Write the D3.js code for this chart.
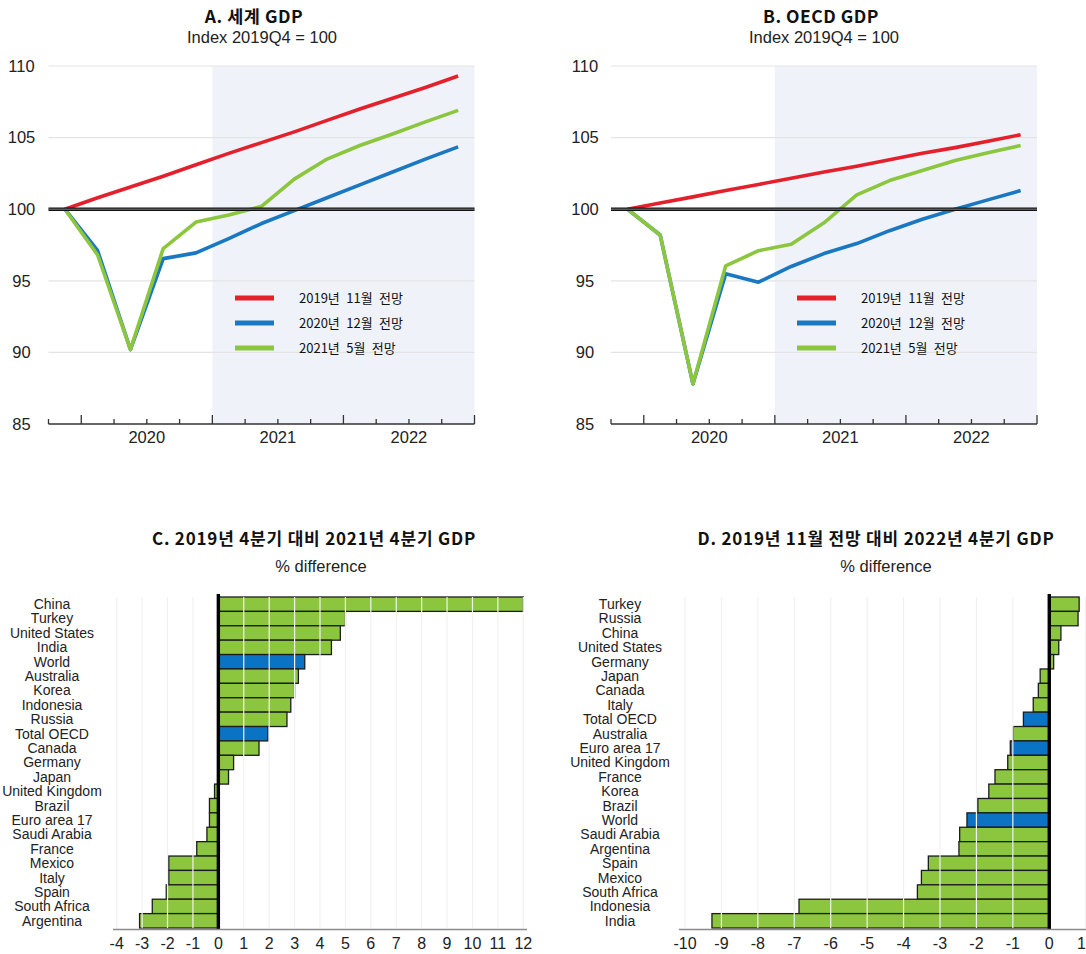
<!DOCTYPE html>
<html>
<head>
<meta charset="utf-8">
<script src="https://cdn.jsdelivr.net/npm/d3@7"></script>
<style>
  html, body { margin: 0; padding: 0; background: #fff; }
  svg { display: block; }
  .lat { font-family: "Liberation Sans", Arial, sans-serif; fill: #222; }
  .kr { font-family: "Noto Sans CJK KR", "Noto Sans", sans-serif; fill: #111; }
</style>
</head>
<body>
<svg id="chart" width="1086" height="954"></svg>
<script>
// Quarterly periods shown in panels A and B
const quarters = ["2019Q4","2020Q1","2020Q2","2020Q3","2020Q4","2021Q1","2021Q2",
                  "2021Q3","2021Q4","2022Q1","2022Q2","2022Q3","2022Q4"];

// World GDP index, 2019Q4 = 100
const worldNov2019 = [100, 100.8, 101.55, 102.3, 103.1, 103.9, 104.65, 105.4, 106.2, 107.0, 107.75, 108.5, 109.3];
const worldDec2020 = [100, 97.1, 90.2, 96.55, 96.95, 97.95, 99.0, 99.9, 100.8, 101.7, 102.6, 103.5, 104.35];
const worldMay2021 = [100, 96.8, 90.2, 97.25, 99.1, 99.6, 100.2, 102.1, 103.5, 104.45, 105.25, 106.1, 106.9];

// OECD GDP index, 2019Q4 = 100
const oecdNov2019 = [100, 100.43, 100.86, 101.3, 101.73, 102.16, 102.6, 103.0, 103.45, 103.9, 104.3, 104.75, 105.2];
const oecdDec2020 = [100, 98.2, 87.8, 95.5, 94.9, 96.0, 96.9, 97.6, 98.5, 99.3, 100.0, 100.65, 101.3];
const oecdMay2021 = [100, 98.2, 87.8, 96.05, 97.1, 97.55, 99.05, 101.0, 102.0, 102.7, 103.4, 103.95, 104.45];

const seriesNames = ["2019년 11월 전망", "2020년 12월 전망", "2021년 5월 전망"];
const yTicks = [85, 90, 95, 100, 105, 110];
const yearLabels = [2020, 2021, 2022];

// Panel C: 2021Q4 GDP vs 2019Q4, % difference
const countriesC = ["China","Turkey","United States","India","World","Australia","Korea","Indonesia",
  "Russia","Total OECD","Canada","Germany","Japan","United Kingdom","Brazil","Euro area 17",
  "Saudi Arabia","France","Mexico","Italy","Spain","South Africa","Argentina"];
const valuesC = [12.0, 5.0, 4.8, 4.45, 3.4, 3.15, 3.0, 2.85, 2.7, 1.95, 1.6, 0.6, 0.4,
  -0.15, -0.35, -0.35, -0.45, -0.85, -1.95, -1.95, -2.05, -2.6, -3.1];
const aggregatesC = ["World", "Total OECD"];
const ticksC = d3.range(-4, 13);

// Panel D: 2022Q4 GDP vs November 2019 projection, % difference
const countriesD = ["Turkey","Russia","China","United States","Germany","Japan","Canada","Italy",
  "Total OECD","Australia","Euro area 17","United Kingdom","France","Korea","Brazil","World",
  "Saudi Arabia","Argentina","Spain","Mexico","South Africa","Indonesia","India"];
const valuesD = [0.82, 0.79, 0.32, 0.26, 0.12, -0.25, -0.3, -0.44, -0.71, -0.99, -1.07, -1.14,
  -1.49, -1.66, -1.96, -2.26, -2.46, -2.48, -3.32, -3.51, -3.62, -6.87, -9.26];
const aggregatesD = ["Total OECD", "Euro area 17", "World"];
const ticksD = d3.range(-10, 2);

const COLORS = ["#e3202b", "#1a78c2", "#8cc63f"];
const BAR_GREEN = "#8cc63f", BAR_BLUE = "#0b73c4";

const svg = d3.select("#chart");
svg.append("rect").attr("width", 1086).attr("height", 954).attr("fill", "#fff");

// quarter label -> fractional year at the quarter's midpoint
const qPos = q => +q.slice(0, 4) + (+q.slice(5) - 1) / 4 + 0.125;

function linePanel(opt) {
  const g = svg.append("g");
  const x = d3.scaleLinear().domain([2019.75, 2023.0]).range([opt.left, opt.right]);
  const y = d3.scaleLinear().domain([85, 110]).range([424, 66]);

  // projection period shading
  g.append("rect")
    .attr("x", x(2021)).attr("y", y(110))
    .attr("width", x(2023) - x(2021)).attr("height", y(85) - y(110))
    .attr("fill", "#eff3f9");

  // horizontal grid
  g.selectAll("line.grid").data(yTicks.filter(t => t !== 85 && t !== 100)).join("line")
    .attr("x1", opt.left).attr("x2", opt.right)
    .attr("y1", d => y(d)).attr("y2", d => y(d))
    .attr("stroke", "#e4e4e4").attr("stroke-width", 1.2);

  // y tick labels
  g.selectAll("text.yt").data(yTicks).join("text")
    .attr("class", "lat")
    .attr("x", opt.yLabelX).attr("y", d => y(d))
    .attr("dy", "0.35em").attr("text-anchor", "middle")
    .attr("font-size", 16.5).text(d => d);

  // series lines
  const line = d3.line().x((d, i) => x(qPos(quarters[i]))).y(d => y(d));
  [1, 2, 0].forEach(ci => {
    g.append("path").datum(opt.series[ci]).attr("d", line)
      .attr("fill", "none").attr("stroke", COLORS[ci])
      .attr("stroke-width", 3.6).attr("stroke-linejoin", "round");
  });

  // 100 reference line
  g.append("line").attr("x1", opt.left).attr("x2", opt.right)
    .attr("y1", y(100)).attr("y2", y(100))
    .attr("stroke", "#111").attr("stroke-width", 3.6);
  g.append("line").attr("x1", opt.left).attr("x2", opt.right)
    .attr("y1", y(100)).attr("y2", y(100))
    .attr("stroke", "#888").attr("stroke-width", 0.9);

  // x axis with quarter ticks pointing up
  g.append("line").attr("x1", opt.left).attr("x2", opt.right)
    .attr("y1", y(85)).attr("y2", y(85))
    .attr("stroke", "#333").attr("stroke-width", 1.3);
  const tickVals = d3.range(2019.75, 2023.01, 0.25);
  g.selectAll("line.xt").data(tickVals).join("line")
    .attr("x1", d => x(d)).attr("x2", d => x(d))
    .attr("y1", y(85))
    .attr("y2", d => y(85) - (Math.abs(d - Math.round(d)) < 1e-6 ? 9 : 5))
    .attr("stroke", "#333").attr("stroke-width", 1.3);
  g.selectAll("text.xl").data(yearLabels).join("text")
    .attr("class", "lat")
    .attr("x", d => x(d + 0.5)).attr("y", 443)
    .attr("text-anchor", "middle").attr("font-size", 16.5).text(d => d);

  // titles
  g.append("text").attr("class", "kr")
    .attr("x", opt.titleX).attr("y", 23).attr("text-anchor", "middle")
    .attr("font-size", 17.5).attr("font-weight", "bold").attr("letter-spacing", 0.5)
    .text(opt.title);
  g.append("text").attr("class", "lat")
    .attr("x", opt.subX).attr("y", 43).attr("text-anchor", "middle")
    .attr("font-size", 16.5).text("Index 2019Q4 = 100");

  // legend
  seriesNames.forEach((name, i) => {
    const ly = 298 + i * 25;
    g.append("line").attr("x1", opt.legX).attr("x2", opt.legX + 39)
      .attr("y1", ly).attr("y2", ly)
      .attr("stroke", COLORS[i]).attr("stroke-width", 5);
    g.append("text").attr("class", "kr")
      .attr("x", opt.legX + 64).attr("y", ly).attr("dy", "0.35em")
      .attr("font-size", 13).attr("word-spacing", 3.5).attr("fill", "#222").text(name);
  });
}

linePanel({ left: 48.5, right: 474.5, yLabelX: 21.5, titleX: 254, subX: 262, legX: 235,
  title: "A. 세계 GDP", series: [worldNov2019, worldDec2020, worldMay2021] });
linePanel({ left: 611, right: 1037, yLabelX: 585, titleX: 821, subX: 824, legX: 797,
  title: "B. OECD GDP", series: [oecdNov2019, oecdDec2020, oecdMay2021] });

function barPanel(opt) {
  const g = svg.append("g");
  const x = d3.scaleLinear().domain(opt.domain).range(opt.range);
  const y = d3.scaleBand().domain(opt.cats).range([597, 928]).padding(0);

  // bars
  g.selectAll("rect.bar").data(opt.cats).join("rect")
    .attr("x", (d, i) => x(Math.min(0, opt.vals[i])))
    .attr("y", d => y(d))
    .attr("width", (d, i) => Math.abs(x(opt.vals[i]) - x(0)))
    .attr("height", y.bandwidth())
    .attr("fill", d => opt.highlight.includes(d) ? BAR_BLUE : BAR_GREEN)
    .attr("stroke", "#1c1c1c").attr("stroke-width", 1.3);

  // vertical grid, drawn over the bars
  g.selectAll("line.grid").data(opt.ticks.filter(t => t !== 0)).join("line")
    .attr("x1", d => x(d)).attr("x2", d => x(d))
    .attr("y1", 597).attr("y2", 928)
    .attr("stroke", "#f1f1f1").attr("stroke-width", 1.2);

  // zero line
  g.append("line").attr("x1", x(0)).attr("x2", x(0))
    .attr("y1", 594).attr("y2", 929)
    .attr("stroke", "#000").attr("stroke-width", 3.4);

  // axis line and tick labels
  g.append("line").attr("x1", opt.axisFrom).attr("x2", opt.axisTo)
    .attr("y1", 929.5).attr("y2", 929.5)
    .attr("stroke", "#8a8a8a").attr("stroke-width", 1.6);
  const maxTick = opt.ticks[opt.ticks.length - 1];
  g.selectAll("text.xt").data(opt.ticks).join("text")
    .attr("class", "lat")
    .attr("x", d => (d === maxTick && opt.clipLast) ? 1086 : x(d)).attr("y", 949)
    .attr("text-anchor", d => (d === maxTick && opt.clipLast) ? "end" : "middle")
    .attr("font-size", 16).text(d => d);

  // category labels
  g.selectAll("text.cat").data(opt.cats).join("text")
    .attr("class", "lat")
    .attr("x", opt.labelX).attr("y", d => y(d) + y.bandwidth() / 2)
    .attr("dy", "0.35em").attr("text-anchor", "middle")
    .attr("font-size", 14).text(d => d);

  // titles
  g.append("text").attr("class", "kr")
    .attr("x", opt.titleX).attr("y", 545).attr("text-anchor", "middle")
    .attr("font-size", 17).attr("font-weight", "bold").attr("letter-spacing", 0.8)
    .text(opt.title);
  g.append("text").attr("class", "lat")
    .attr("x", opt.subX).attr("y", 572).attr("text-anchor", "middle")
    .attr("font-size", 16.5).text("% difference");
}

barPanel({ cats: countriesC, vals: valuesC, highlight: aggregatesC, ticks: ticksC,
  domain: [-4, 12], range: [116.7, 523.3], axisFrom: 113, axisTo: 527, labelX: 52,
  titleX: 314, subX: 321, clipLast: false, title: "C. 2019년 4분기 대비 2021년 4분기 GDP" });
barPanel({ cats: countriesD, vals: valuesD, highlight: aggregatesD, ticks: ticksD,
  domain: [-10, 1], range: [685, 1085.7], axisFrom: 679, axisTo: 1086, labelX: 620,
  titleX: 876, subX: 886, clipLast: true, title: "D. 2019년 11월 전망 대비 2022년 4분기 GDP" });
</script>
</body>
</html>
